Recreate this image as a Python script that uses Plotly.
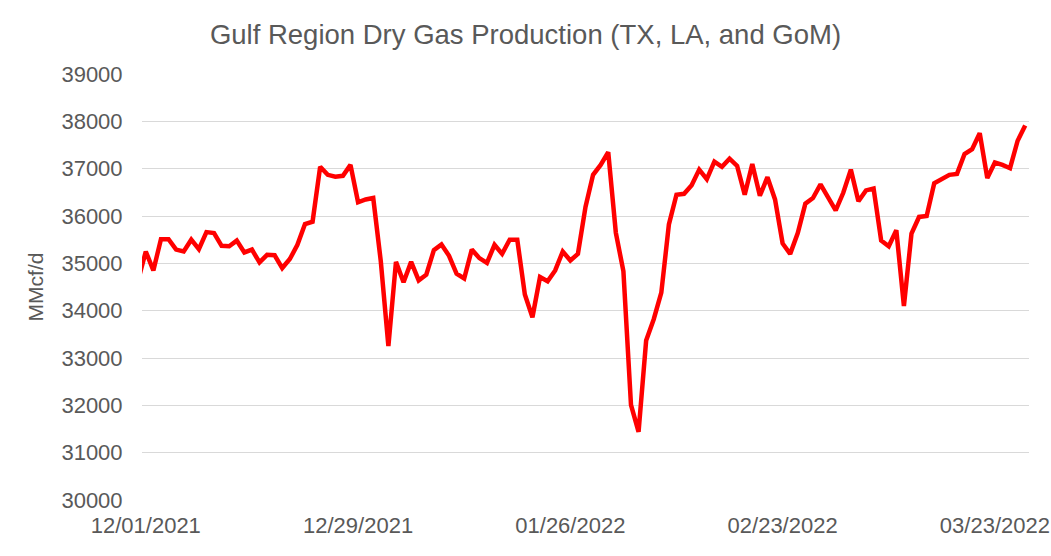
import plotly.graph_objects as go
import pandas as pd

start_date = "2021-11-30"
production = [
    34650, 35250, 34850, 35510, 35510, 35290, 35250, 35500, 35300, 35660,
    35640, 35370, 35360, 35480, 35230, 35290, 35020, 35180, 35170, 34900,
    35090, 35390, 35830, 35880, 37040, 36870, 36830, 36850, 37080, 36290,
    36350, 36380, 35040, 33250, 35030, 34600, 35030, 34640, 34760, 35280,
    35400, 35160, 34780, 34680, 35290, 35110, 35010, 35390, 35200, 35500,
    35500, 34340, 33860, 34710, 34620, 34850, 35250, 35060, 35200, 36190,
    36870, 37080, 37350, 35650, 34830, 32010, 31440, 33370, 33820, 34380,
    35820, 36450, 36470, 36650, 36980, 36780, 37150, 37040, 37210, 37060,
    36450, 37100, 36430, 36820, 36350, 35420, 35200, 35640, 36260, 36380,
    36670, 36400, 36120, 36490, 36980, 36310, 36540, 36580, 35480, 35360,
    35700, 34100, 35630, 35980, 36000, 36690, 36770, 36870, 36890, 37310,
    37410, 37750, 36800, 37130, 37080, 37010, 37590, 37910,
]
dates = pd.date_range(start_date, periods=len(production), freq="D")

tick_dates = ["2021-12-01", "2021-12-29", "2022-01-26", "2022-02-23", "2022-03-23"]
tick_labels = ["12/01/2021", "12/29/2021", "01/26/2022", "02/23/2022", "03/23/2022"]
y_ticks = [30000, 31000, 32000, 33000, 34000, 35000, 36000, 37000, 38000, 39000]
y_tick_labels = ["30000", "31000", "32000", "33000", "34000", "35000", "36000", "37000", "38000", "39000"]

title_text = "Gulf Region Dry Gas Production (TX, LA, and GoM)"
y_title = "MMcf/d"

text_color = "#595959"
font_family = "Liberation Sans, Arial, sans-serif"

fig = go.Figure()
fig.add_trace(go.Scatter(
    x=dates, y=production, mode="lines",
    line=dict(color="#FF0000", width=4.5),
    showlegend=False, hoverinfo="x+y",
))

fig.update_layout(
    width=1051, height=556,
    margin=dict(l=142, r=22, t=74, b=56),
    paper_bgcolor="white", plot_bgcolor="white",
    font=dict(family=font_family, color=text_color, size=22),
    title=dict(text=title_text, x=0.5, xanchor="center", y=1 - 34 / 556,
               yanchor="middle", yref="container",
               font=dict(size=27.5, color=text_color, family=font_family)),
    xaxis=dict(
        type="date", automargin=False,
        range=["2021-11-30 12:00", "2022-03-27 12:00"],
        tickvals=tick_dates, ticktext=tick_labels,
        showgrid=False, zeroline=False, showline=False,
        ticks="outside", ticklen=6, tickcolor="rgba(0,0,0,0)",
        tickfont=dict(size=22, color=text_color),
    ),
    yaxis=dict(
        range=[30000, 39000], tickvals=y_ticks, ticktext=y_tick_labels,
        automargin=False,
        showgrid=True, gridcolor="#D9D9D9", gridwidth=1.3,
        zeroline=False, showline=False,
        ticks="outside", ticklen=14, tickcolor="rgba(0,0,0,0)",
        tickfont=dict(size=22, color=text_color),
        title=dict(text=y_title, font=dict(size=21, color=text_color), standoff=12),
    ),
)

fig.write_html("out.html")
